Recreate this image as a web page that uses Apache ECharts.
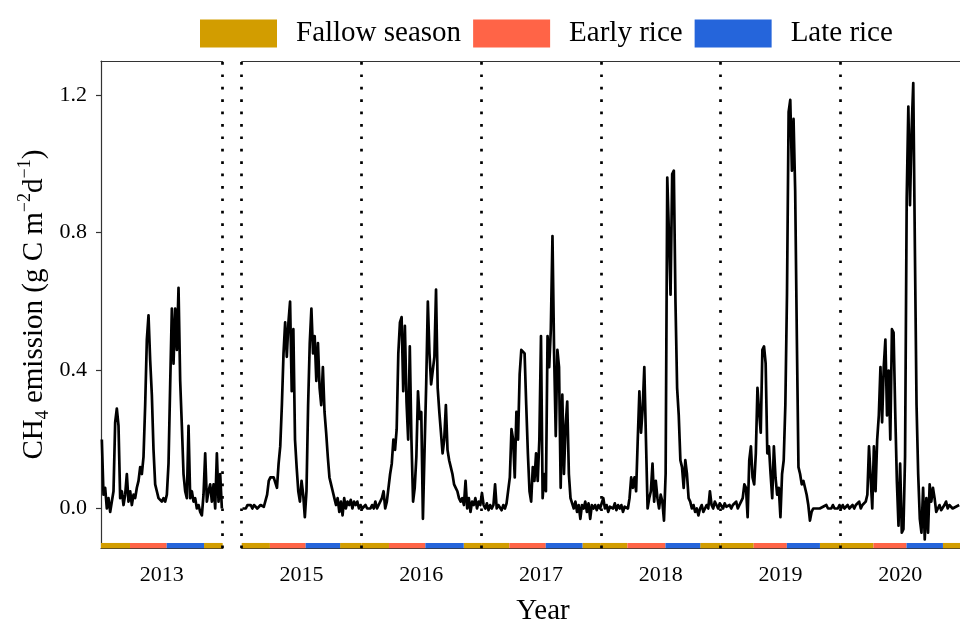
<!DOCTYPE html>
<html>
<head>
<meta charset="utf-8">
<script src="https://cdn.jsdelivr.net/npm/echarts@6/dist/echarts.min.js"></script>
<style>html,body{margin:0;padding:0;background:#fff}#c{width:960px;height:626px}</style>
</head>
<body>
<div id="c"></div>
<script>
// ---------------- data (5-day samples) ----------------
const years = [2013, 2015, 2016, 2017, 2018, 2019, 2020];
const yearLabels = ['2013', '2015', '2016', '2017', '2018', '2019', '2020'];
const yTickValues = [0, 0.4, 0.8, 1.2];
const STEP_DAYS = 5;

const ch4_2013 = [0.2, 0.04, 0.06, 0.0, 0.03, -0.01, 0.02, 0.05, 0.25, 0.29,
 0.24, 0.03, 0.05, 0.01, 0.04, 0.1, 0.02, 0.05, 0.01, 0.04,
 0.03, 0.06, 0.08, 0.12, 0.1, 0.15, 0.3, 0.49, 0.56, 0.43,
 0.33, 0.17, 0.07, 0.05, 0.03, 0.025, 0.02, 0.03, 0.02, 0.04,
 0.13, 0.36, 0.58, 0.42, 0.58, 0.46, 0.64, 0.37, 0.24, 0.1,
 0.05, 0.03, 0.24, 0.03, 0.05, 0.02, 0.03, 0.0, 0.01, -0.01,
 -0.02, 0.04, 0.16, 0.02, 0.05, 0.07, 0.02, 0.07, 0.0, 0.16,
 0.02, 0.1, 0.0];
const ch4_2015 = [0.0, 0.005, 0.0, 0.01, 0.005, 0.01, 0.0, 0.01, 0.005, 0.0,
 0.005, 0.01, 0.005, 0.005, 0.01, 0.04, 0.08, 0.09, 0.09, 0.09,
 0.085, 0.06, 0.13, 0.18, 0.3, 0.45, 0.54, 0.44, 0.54, 0.6,
 0.34, 0.52, 0.2, 0.12, 0.05, 0.02, 0.08, 0.04, -0.025, 0.05,
 0.3, 0.48, 0.58, 0.45, 0.5, 0.37, 0.48, 0.35, 0.3, 0.41,
 0.28, 0.22, 0.15, 0.09, 0.07, 0.05, 0.03, 0.01, 0.03, -0.01,
 0.02, -0.02, 0.03, 0.0, 0.02, 0.01, 0.025, 0.0, 0.02, 0.01,
 0.02, 0.0, 0.01];
const ch4_2016 = [0.0, 0.005, 0.01, 0.0, 0.005, 0.0, 0.01, 0.0, 0.02, 0.0,
 0.01, 0.005, 0.03, 0.05, 0.0, 0.02, 0.06, 0.1, 0.13, 0.2,
 0.17, 0.23, 0.45, 0.54, 0.555, 0.34, 0.53, 0.31, 0.2, 0.47,
 0.2, 0.02, 0.06, 0.15, 0.34, 0.26, 0.28, -0.03, 0.17, 0.36,
 0.6, 0.45, 0.36, 0.4, 0.44, 0.635, 0.35, 0.28, 0.22, 0.16,
 0.2, 0.3, 0.17, 0.14, 0.12, 0.1, 0.07, 0.06, 0.05, 0.03,
 0.02, 0.03, 0.01, 0.08, 0.0, 0.03, -0.01, 0.02, 0.01, 0.03,
 0.0, 0.02, 0.01];
const ch4_2017 = [0.045, 0.01, 0.0, 0.015, -0.005, 0.01, 0.0, 0.01, 0.07, 0.0,
 0.01, 0.005, -0.005, 0.01, 0.0, 0.015, 0.02, 0.09, 0.23, 0.2,
 0.09, 0.28, 0.2, 0.39, 0.46, 0.46, 0.45, 0.3, 0.16, 0.05,
 0.02, 0.12, 0.08, 0.16, 0.08, 0.2, 0.5, 0.03, 0.1, 0.05,
 0.5, 0.41, 0.52, 0.79, 0.45, 0.21, 0.46, 0.41, 0.06, 0.33,
 0.1, 0.24, 0.31, 0.1, 0.03, 0.015, 0.0, 0.02, -0.01, 0.01,
 -0.03, 0.01, 0.0, 0.02, -0.01, 0.015, -0.03, 0.01, 0.0, 0.01,
 -0.005, 0.01, 0.0];
const ch4_2018 = [0.0, 0.03, 0.0, 0.01, -0.01, 0.005, 0.01, 0.0, 0.015, -0.005,
 0.01, 0.0, 0.01, -0.01, 0.005, 0.01, 0.0, 0.03, 0.09, 0.06,
 0.09, 0.05, 0.2, 0.34, 0.22, 0.29, 0.41, 0.2, 0.0, 0.03,
 0.05, 0.13, 0.02, 0.08, 0.03, 0.0, 0.04, 0.02, -0.035, 0.1,
 0.96, 0.8, 0.62, 0.97, 0.98, 0.6, 0.35, 0.27, 0.14, 0.12,
 0.06, 0.14, 0.1, 0.03, 0.02, 0.0, 0.01, -0.01, 0.0, -0.02,
 0.0, 0.01, -0.01, 0.0, 0.01, 0.0, 0.05, 0.01, 0.0, 0.02,
 0.01, 0.0, 0.015];
const ch4_2019 = [0.01, 0.0, 0.015, 0.005, 0.0, 0.01, 0.0, 0.01, 0.005, 0.02,
 0.0, 0.01, 0.02, 0.03, 0.07, 0.06, -0.025, 0.14, 0.18, 0.09,
 0.07, 0.16, 0.35, 0.28, 0.22, 0.46, 0.47, 0.42, 0.16, 0.18,
 0.1, 0.03, 0.18, 0.09, 0.04, 0.06, -0.025, 0.1, 0.14, 0.3,
 0.62, 1.15, 1.185, 0.98, 1.13, 0.92, 0.5, 0.12, 0.1, 0.07,
 0.08, 0.06, 0.04, 0.01, -0.035, -0.01, 0.0, -0.005, 0.0, 0.005,
 0.0, 0.0, 0.005, 0.0, 0.01, 0.0, 0.005, 0.0, 0.01, 0.0,
 0.005, 0.0, 0.01];
const ch4_2020 = [0.0, 0.01, 0.0, 0.005, 0.01, 0.0, 0.005, 0.01, 0.0, 0.01,
 0.005, 0.02, 0.0, 0.01, 0.005, 0.02, 0.04, 0.18, 0.18, 0.0,
 0.18, 0.05, 0.2, 0.27, 0.41, 0.25, 0.41, 0.49, 0.27, 0.4,
 0.2, 0.52, 0.51, 0.28, 0.08, -0.05, 0.13, -0.07, -0.06, 0.15,
 0.9, 1.166, 0.88, 1.1, 1.234, 0.75, 0.3, 0.1, -0.03, -0.07,
 0.06, -0.09, 0.03, -0.07, 0.07, 0.02, 0.06, 0.03, -0.01, 0.0,
 0.01, -0.005, 0.0, 0.01, 0.02, 0.0, 0.01, 0.005, 0.0, -0.005,
 0.005, 0.0, 0.01];
const ch4ByYear = [ch4_2013, ch4_2015, ch4_2016, ch4_2017, ch4_2018, ch4_2019, ch4_2020];

// season calendar (day of year on which each season starts)
const seasonNames = ['Fallow season', 'Early rice', 'Late rice'];
const seasonColors = ['#D29D00', '#FF6447', '#2565DB'];
const earlyStartDay = [87, 86, 84, 86, 81, 101, 101];
const lateStartDay = [197, 195, 195, 197, 197, 202, 202];
const fallowStartDay = [309, 300, 312, 309, 303, 303, 313];
// year boundaries drawn as dotted lines
const boundaryYears = [2014, 2015, 2016, 2017, 2018, 2019, 2020];

// ---------------- build ----------------
const FONT = "'Liberation Serif', 'Times New Roman', serif";
const Y_MIN = -0.1155, Y_MAX = 1.298;
const STRIP_TOP = -0.1;

function gridOf(y) { return y === 2013 ? 0 : 1; }
function toPoints(year, vals) {
  return vals.map((v, i) => [year + (STEP_DAYS * i + STEP_DAYS / 2) / 365, v]);
}
const lineData = [[], []];
years.forEach((y, k) => { lineData[gridOf(y)].push(...toPoints(y, ch4ByYear[k])); });

const stripData = [[[], []], [[], []], [[], []]]; // [season][grid]
years.forEach((y, k) => {
  const g = gridOf(y);
  const e = y + earlyStartDay[k] / 365, l = y + lateStartDay[k] / 365, f = y + fallowStartDay[k] / 365;
  stripData[0][g].push([y, e]);
  stripData[1][g].push([e, l]);
  stripData[2][g].push([l, f]);
  stripData[0][g].push([f, y + 1]);
});

function renderStrip(params, api) {
  const p0 = api.coord([api.value(0), STRIP_TOP]);
  const p1 = api.coord([api.value(1), Y_MIN]);
  return {
    type: 'rect',
    shape: { x: p0[0], y: p0[1], width: p1[0] - p0[0], height: p1[1] - p0[1] },
    style: { fill: api.visual('color') }
  };
}

const axisLineStyle = { color: '#333', width: 1.2 };
const grids = [
  { left: 101, top: 61, width: 121.7, height: 487.3 },
  { left: 241.7, top: 61, width: 721.8, height: 487.3 }
];
const xRanges = [[2013, 2014], [2015, 2021]];

const xAxes = [];
[0, 1].forEach(g => {
  xAxes.push({
    gridIndex: g, type: 'value', position: 'bottom',
    min: xRanges[g][0], max: xRanges[g][1],
    axisLine: { show: true, onZero: false, lineStyle: axisLineStyle },
    axisTick: { show: false }, splitLine: { show: false },
    axisLabel: {
      customValues: years.filter(y => gridOf(y) === g).map(y => y + 0.5),
      formatter: v => yearLabels[years.indexOf(Math.floor(v))],
      fontSize: 22, fontFamily: FONT, color: '#000', margin: 16
    }
  });
});
[0, 1].forEach(g => {
  xAxes.push({
    gridIndex: g, type: 'value', position: 'top',
    min: xRanges[g][0], max: xRanges[g][1],
    axisLine: { show: true, onZero: false, lineStyle: axisLineStyle },
    axisTick: { show: false }, axisLabel: { show: false }, splitLine: { show: false }
  });
});

const series = [];
[0, 1].forEach(g => {
  seasonNames.forEach((name, s) => {
    series.push({
      type: 'custom', name, xAxisIndex: g, yAxisIndex: g,
      itemStyle: { color: seasonColors[s] },
      renderItem: renderStrip, data: stripData[s][g],
      encode: { x: [0, 1] }, silent: true, z: 1
    });
  });
});
[0, 1].forEach(g => {
  series.push({
    type: 'line', name: 'CH4', xAxisIndex: g, yAxisIndex: g,
    data: lineData[g], showSymbol: false, symbol: 'none',
    lineStyle: { color: '#000', width: 2.7, join: 'round' },
    itemStyle: { color: '#000' }, z: 3, silent: true,
    markLine: {
      silent: true, symbol: ['none', 'none'], label: { show: false },
      lineStyle: { color: '#000', type: [2.7, 9.7], width: 2.7, cap: 'butt' },
      emphasis: { disabled: true },
      data: boundaryYears.filter(b => b >= xRanges[g][0] && b <= xRanges[g][1]).map(b => ({ xAxis: b }))
    }
  });
});

const option = {
  animation: false,
  backgroundColor: '#fff',
  textStyle: { fontFamily: FONT },
  grid: grids,
  legend: {
    data: seasonNames, left: 195, top: 14, itemWidth: 77, itemHeight: 28, itemGap: 12,
    icon: 'rect', selectedMode: false,
    textStyle: { fontSize: 29, fontFamily: FONT, color: '#000', padding: [0, 0, 0, 14] }
  },
  xAxis: xAxes,
  yAxis: [
    {
      gridIndex: 0, type: 'value', min: Y_MIN, max: Y_MAX,
      axisLine: { show: true, lineStyle: axisLineStyle },
      axisTick: { show: true, customValues: yTickValues, length: 5, lineStyle: axisLineStyle },
      axisLabel: { customValues: yTickValues, formatter: v => v.toFixed(1), fontSize: 22, fontFamily: FONT, color: '#000', margin: 14 },
      splitLine: { show: false },
      name: '{m|CH}{s|4}{m| emission (g C m}{p|−2}{m|d}{p|−1}{m|)}',
      nameLocation: 'middle', nameGap: 49,
      nameTextStyle: {
        color: '#000', fontFamily: FONT, fontSize: 29,
        rich: {
          m: { fontSize: 29, fontFamily: FONT, color: '#000', lineHeight: 36 },
          s: { fontSize: 18, fontFamily: FONT, color: '#000', lineHeight: 18, verticalAlign: 'bottom' },
          p: { fontSize: 18, fontFamily: FONT, color: '#000', lineHeight: 18, verticalAlign: 'top' }
        }
      }
    },
    { gridIndex: 1, type: 'value', min: Y_MIN, max: Y_MAX, show: false, splitLine: { show: false } }
  ],
  graphic: [{
    type: 'text', x: 543, y: 611,
    style: { text: 'Year', fontSize: 29, fontFamily: FONT, fill: '#000', align: 'center', verticalAlign: 'middle' }
  }],
  series
};

const chart = echarts.init(document.getElementById('c'), null, { renderer: 'canvas' });
chart.setOption(option);
</script>
</body>
</html>
